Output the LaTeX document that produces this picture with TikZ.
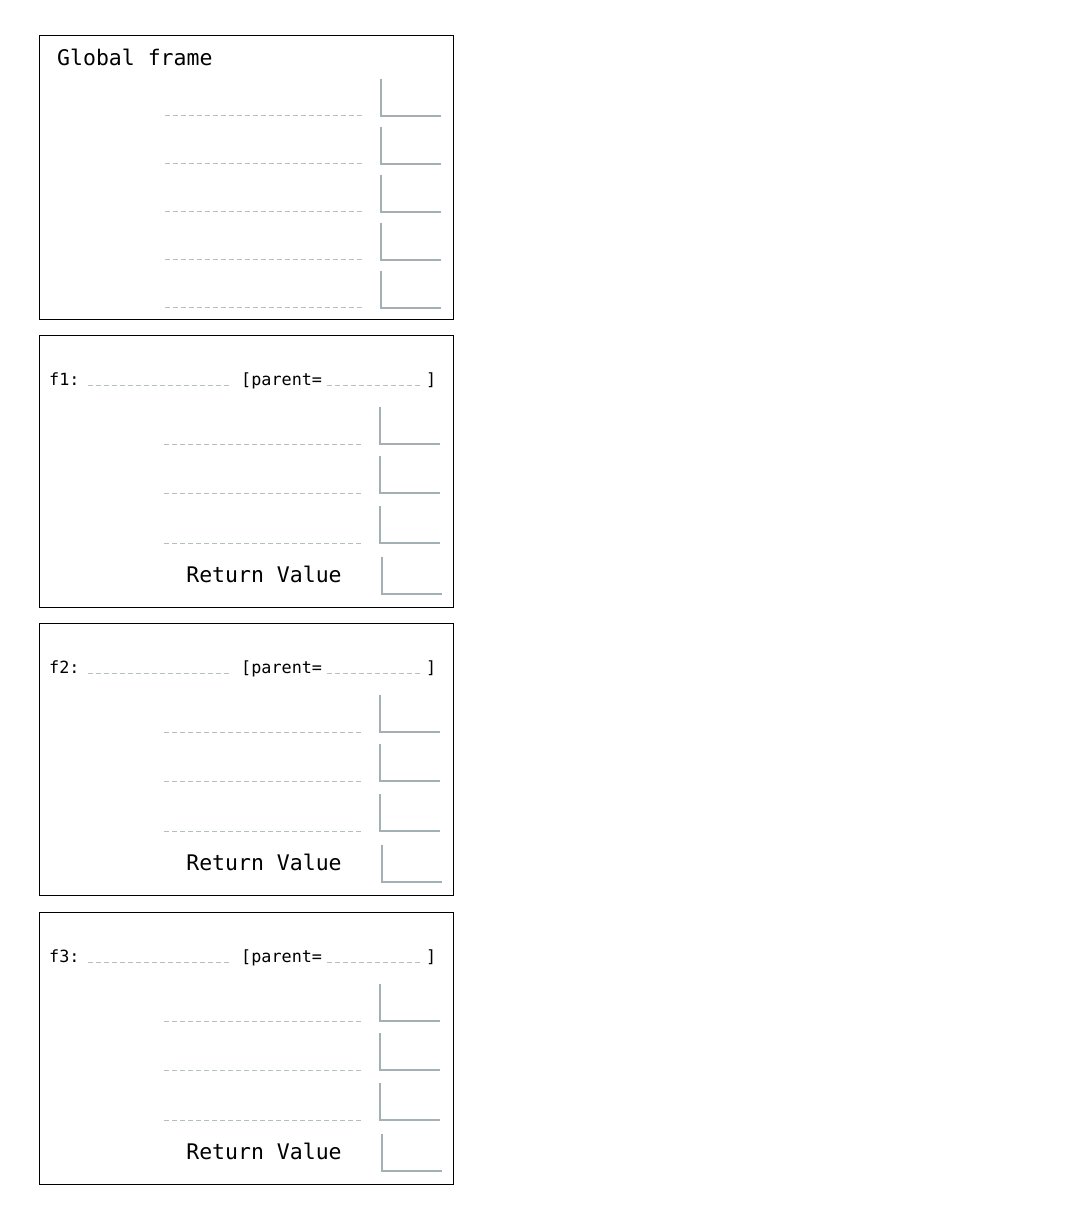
\documentclass[tikz,border=0pt]{standalone}
\usepackage{fontspec}
\setmonofont{DejaVu Sans Mono}
\definecolor{slotgray}{HTML}{A3B1B6}
\definecolor{dashgray}{HTML}{B4C0C0}
\tikzset{
  frame/.style={draw=black,line width=1pt},
  slot/.style={draw=slotgray,line width=1.2pt},
  blank/.style={draw=dashgray,line width=1pt,dash pattern=on 5pt off 3pt},
  bigtext/.style={font=\ttfamily\fontsize{21.5}{24}\selectfont,inner sep=0pt},
  smalltext/.style={font=\ttfamily\fontsize{16.8}{19}\selectfont,inner sep=0pt}
}
\begin{document}
\begin{tikzpicture}[x=1pt,y=-1pt]
\useasboundingbox (0,0) rectangle (1069,1221);
% Global frame
\draw[frame] (39,35) rectangle (453,319);
\node[bigtext,anchor=base west] (gtitle) at (57,65) {Global frame};
\foreach \y in {116,164,212,260,308}{
  \draw[blank] (165,\y-1) -- (363,\y-1);
  \draw[slot] (381,\y-37) -- (381,\y) -- (441,\y);
}
% Function frames
\foreach \f/\t in {f1/335,f2/623,f3/912}{
  \begin{scope}[shift={(0,\t)}]
    \draw[frame] (39,0) rectangle (453,272);
    % header line
    \node[smalltext,anchor=base west] (\f-name) at (49,50) {\f:};
    \draw[blank] (88,50) -- (232,50);
    \node[smalltext,anchor=base west] (\f-parent) at (241,50) {[parent=};
    \draw[blank] (327,50) -- (423,50);
    \node[smalltext,anchor=base west] (\f-close) at (426,50) {]};
    % local variables
    \foreach \y in {109,158,208}{
      \draw[blank] (164,\y) -- (363,\y);
      \draw[slot] (380,\y-37) -- (380,\y) -- (440,\y);
    }
    % return value
    \node[bigtext,anchor=base] (\f-ret) at (264,247) {Return Value};
    \draw[slot] (382,222) -- (382,259) -- (442,259);
  \end{scope}
}
\end{tikzpicture}
\end{document}
